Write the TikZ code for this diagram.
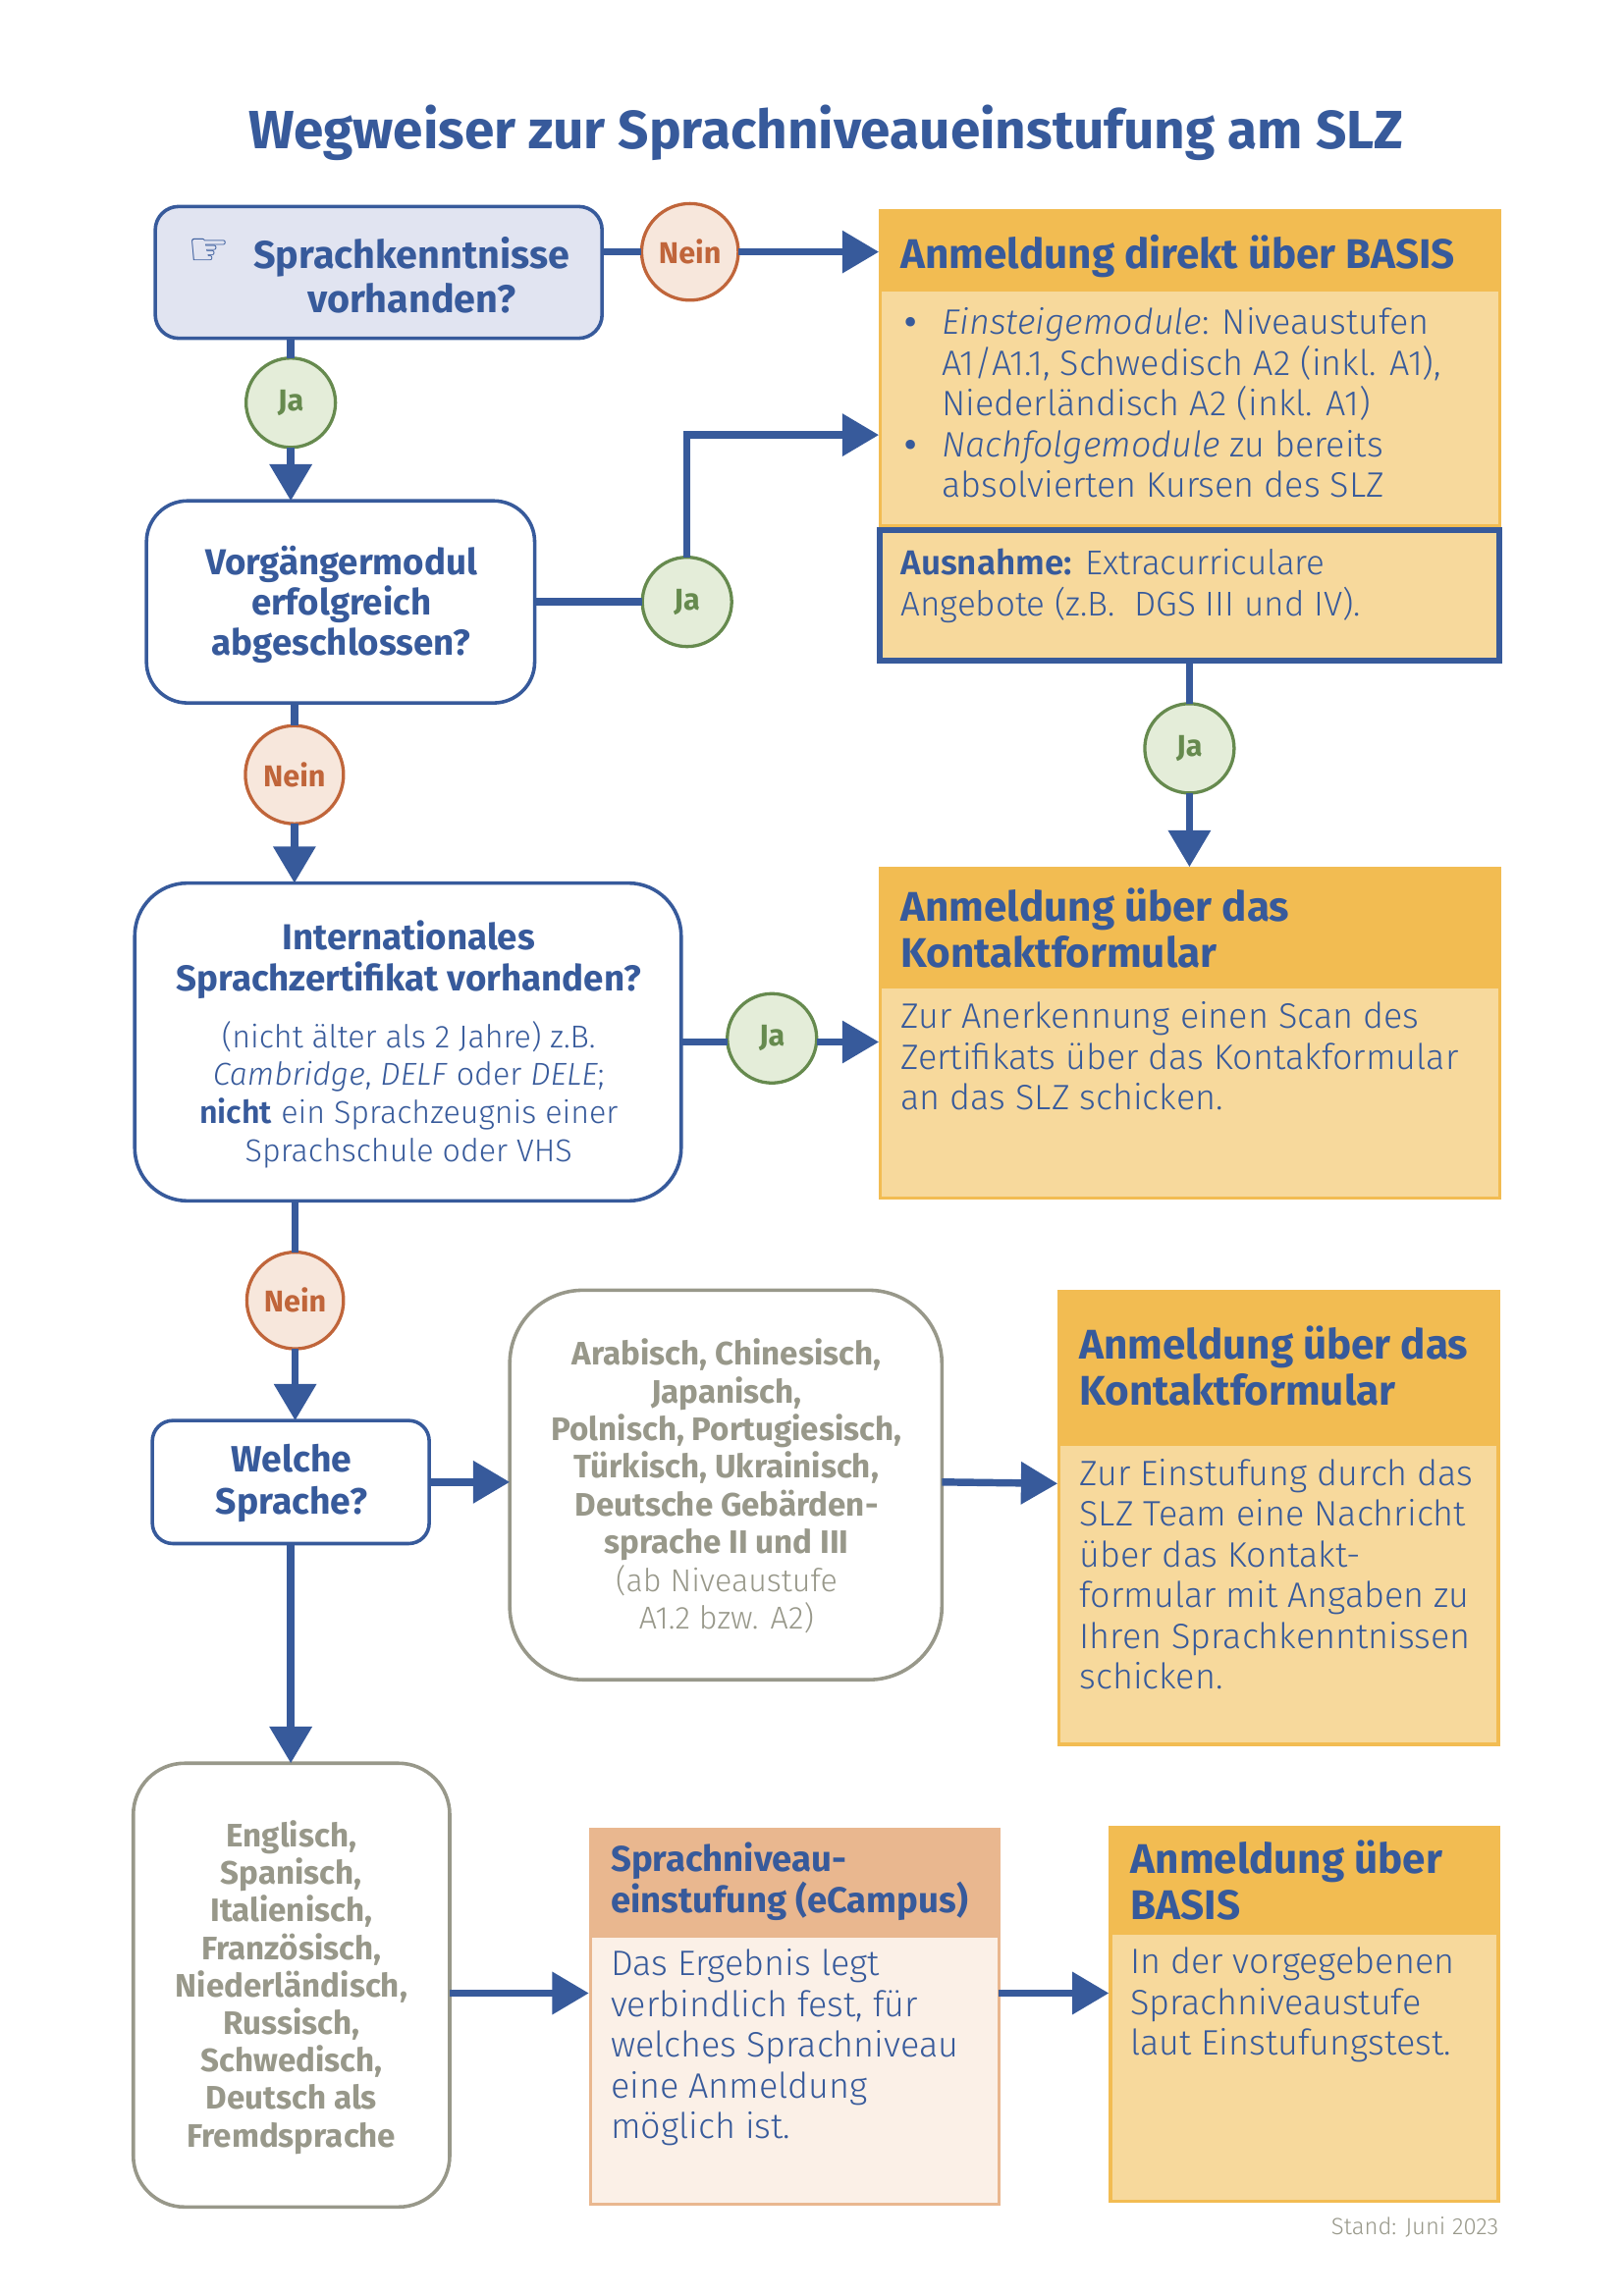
\documentclass[tikz,border=0pt]{standalone}
\usepackage{fontspec}
\usetikzlibrary{arrows.meta,calc}
\setmainfont{Fira Sans}
\newfontfamily\lightf{Fira Sans Light}
\newfontfamily\handf{DejaVu Sans}
\definecolor{bl}{HTML}{375A9B}
\definecolor{hdr}{HTML}{F2BC52}
\definecolor{bod}{HTML}{F7D99C}
\definecolor{pale}{HTML}{E1E4F1}
\definecolor{grn}{HTML}{668A4E}
\definecolor{grnf}{HTML}{E4EDD9}
\definecolor{org}{HTML}{C0653A}
\definecolor{orgf}{HTML}{F7E7DC}
\definecolor{gry}{HTML}{98988A}
\definecolor{peach}{HTML}{E9B78F}
\definecolor{peachf}{HTML}{FBF0E7}
\tikzset{
  x=1pt,y=-1pt,
  every node/.style={outer sep=0pt},
  flowbox/.style={draw=bl,line width=2.4pt,fill=white,rounded corners=#1,inner sep=0pt},
  greybox/.style={draw=gry,line width=2.4pt,fill=white,rounded corners=#1,inner sep=0pt},
  jabub/.style={circle,draw=grn,fill=grnf,line width=2.2pt,inner sep=0pt,minimum size=61pt,text=grn,font=\fontsize{20.5}{24}\selectfont\bfseries},
  neinbub/.style={circle,draw=org,fill=orgf,line width=2.2pt,inner sep=0pt,minimum size=66pt,text=org,font=\fontsize{20.5}{24}\selectfont\bfseries},
  hdrbox/.style={fill=#1,inner sep=0pt,anchor=north west},
  bodbox/.style n args={2}{fill=#1,draw=#2,line width=2.2pt,inner sep=0pt,anchor=north west},
  htext/.style={anchor=west,align=left,text=bl,inner sep=0pt,font=\fontsize{28.3}{31.5}\selectfont\bfseries},
  btext/.style={anchor=west,align=left,text=bl,inner sep=0pt,font=\lightf\fontsize{24.1}{27.8}\selectfont},
  qtext/.style={align=center,text=bl,inner sep=0pt,font=\fontsize{24.6}{27.5}\selectfont\bfseries},
  link/.style={draw=bl,line width=5pt},
  arr/.style={draw=bl,line width=5pt,-{Triangle[length=25pt,width=28pt]}},
}
\begin{document}
\begin{tikzpicture}
\useasboundingbox (0,0) rectangle (1108,1567.8);
% title
\node[inner sep=0pt,text=bl,font=\fontsize{36.8}{42}\selectfont\bfseries] (title) at (564,91) {Wegweiser zur Sprachniveaueinstufung am SLZ};
% question boxes
\node[flowbox=16pt,fill=pale,minimum width=305pt,minimum height=90pt] (q1) at (258.5,186) {};
\node[qtext,font=\fontsize{26.5}{30}\selectfont\bfseries] (q1t) at (281,188) {Sprachkenntnisse\\vorhanden?};
\node[inner sep=0pt,text=bl,font=\handf\fontsize{32}{32}\selectfont] (hand) at (143,172) {☞};
\node[flowbox=28pt,minimum width=265pt,minimum height=138pt] (q2) at (232.5,411) {};
\node[qtext] (q2t) at (233,413) {Vorgängermodul\\erfolgreich\\abgeschlossen?};
\node[flowbox=36pt,minimum width=373pt,minimum height=217pt] (q3) at (278.5,711.5) {};
\node[qtext,font=\fontsize{24.6}{28}\selectfont\bfseries] (q3a) at (279,655.5) {Internationales\\Sprachzertifikat vorhanden?};
\node[qtext,font=\lightf\fontsize{21.6}{26}\selectfont] (q3b) at (279,747.5) {(nicht älter als 2 Jahre) z.B.\\\textit{Cambridge}, \textit{DELF} oder \textit{DELE};\\\textbf{nicht} ein Sprachzeugnis einer\\Sprachschule oder VHS};
\node[flowbox=14pt,minimum width=189pt,minimum height=84pt] (q4) at (198.5,1012) {};
\node[qtext,font=\fontsize{25}{29}\selectfont\bfseries] (q4t) at (199,1013) {Welche\\Sprache?};
% grey boxes
\node[greybox=50pt,minimum width=295pt,minimum height=266pt] (g1) at (495.5,1014) {};
\node[qtext,text=gry,font=\fontsize{22.2}{25.8}\selectfont\bfseries] (g1a) at (496,990) {Arabisch, Chinesisch,\\Japanisch,\\Polnisch, Portugiesisch,\\Türkisch, Ukrainisch,\\Deutsche Gebärden-\\sprache II und III};
\node[qtext,text=gry,font=\lightf\fontsize{21.6}{26}\selectfont] (g1b) at (496,1092) {(ab Niveaustufe\\A1.2 bzw. A2)};
\node[greybox=35pt,minimum width=216pt,minimum height=303pt] (g2) at (199,1355.5) {};
\node[qtext,text=gry,font=\fontsize{22.2}{25.6}\selectfont\bfseries] (g2t) at (199,1357) {Englisch,\\Spanisch,\\Italienisch,\\Französisch,\\Niederländisch,\\Russisch,\\Schwedisch,\\Deutsch als\\Fremdsprache};
% result 1
\node[bodbox={bod}{hdr},minimum width=422.8pt,minimum height=161pt] (r1b) at (601.1,198) {};
\node[hdrbox=hdr,minimum width=425pt,minimum height=56pt] (r1h) at (600,143) {};
\node[htext] (r1ht) at (615,175) {Anmeldung direkt über BASIS};
\node[btext] (r1t) at (643,275) {\llap{\textbf{•}\hspace{17pt}}\textit{Einsteigemodule}: Niveaustufen\\A1/A1.1, Schwedisch A2 (inkl. A1),\\Niederländisch A2 (inkl. A1)\\\llap{\textbf{•}\hspace{17pt}}\textit{Nachfolgemodule} zu bereits\\absolvierten Kursen des SLZ};
\node[draw=bl,fill=bod,line width=4pt,inner sep=0pt,anchor=north west,minimum width=423pt,minimum height=89pt] (ex) at (600.5,362) {};
\node[btext,font=\lightf\fontsize{23.5}{27.8}\selectfont] (ext) at (615,400) {\textbf{Ausnahme:} Extracurriculare\\Angebote (z.B.\ \ DGS III und IV).};
% result 2
\node[bodbox={bod}{hdr},minimum width=422.8pt,minimum height=144pt] (r2b) at (601.1,674) {};
\node[hdrbox=hdr,minimum width=425pt,minimum height=82pt] (r2h) at (600,592) {};
\node[htext] (r2ht) at (615,634) {Anmeldung über das\\Kontaktformular};
\node[btext] (r2t) at (615,721) {Zur Anerkennung einen Scan des\\Zertifikats über das Kontakformular\\an das SLZ schicken.};
% result 3
\node[bodbox={bod}{hdr},minimum width=299.8pt,minimum height=205pt] (r3b) at (723.1,986) {};
\node[hdrbox=hdr,minimum width=302pt,minimum height=105pt] (r3h) at (722,881) {};
\node[htext] (r3ht) at (737,933) {Anmeldung über das\\Kontaktformular};
\node[btext] (r3t) at (737,1075) {Zur Einstufung durch das\\SLZ Team eine Nachricht\\über das Kontakt-\\formular mit Angaben zu\\Ihren Sprachkenntnissen\\schicken.};
% placement test
\node[bodbox={peachf}{peach},minimum width=278.8pt,minimum height=183pt] (r4b) at (403.1,1322) {};
\node[hdrbox=peach,minimum width=281pt,minimum height=74pt] (r4h) at (402,1248) {};
\node[htext,font=\fontsize{24.5}{28}\selectfont\bfseries] (r4ht) at (417,1285) {Sprachniveau-\\einstufung (eCampus)};
\node[btext] (r4t) at (417,1398) {Das Ergebnis legt\\verbindlich fest, für\\welches Sprachniveau\\eine Anmeldung\\möglich ist.};
% result 4
\node[bodbox={bod}{hdr},minimum width=264.8pt,minimum height=183pt] (r5b) at (758.1,1320) {};
\node[hdrbox=hdr,minimum width=267pt,minimum height=73pt] (r5h) at (757,1247) {};
\node[htext] (r5ht) at (772,1284) {Anmeldung über\\BASIS};
\node[btext] (r5t) at (771.5,1369) {In der vorgegebenen\\Sprachniveaustufe\\laut Einstufungstest.};
% bubbles
\node[neinbub] (n1) at (471,172) {Nein};
\node[jabub] (j1) at (198.5,275) {\raisebox{-1.5pt}{Ja}};
\node[jabub] (j2) at (469,411) {\raisebox{-1.5pt}{Ja}};
\node[neinbub,minimum size=67pt] (n2) at (201,529) {Nein};
\node[jabub] (j3) at (527,709) {\raisebox{-1.5pt}{Ja}};
\node[jabub] (j4) at (812,511) {\raisebox{-1.5pt}{Ja}};
\node[neinbub] (n3) at (201.5,888) {Nein};
% connectors
\draw[link] (n1 -| q1.east) -- (n1.west);
\draw[arr] (n1.east) -- (n1 -| r1h.west);
\draw[link] (j1 |- q1.south) -- (j1.north);
\draw[arr] (j1.south) -- (j1 |- q2.north);
\draw[link] (j2 -| q2.east) -- (j2.west);
\coordinate (bend) at (0,297);
\draw[arr] (j2.north) |- (r1h.west |- bend);
\draw[link] (n2 |- q2.south) -- (n2.north);
\draw[arr] (n2.south) -- (n2 |- q3.north);
\draw[link] (q3.east) -- (q3.east -| j3.west);
\draw[arr] (q3.east -| j3.east) -- (q3.east -| r2h.west);
\draw[link] (j4 |- ex.south) -- (j4.north);
\draw[arr] (j4.south) -- (j4 |- r2h.north);
\draw[link] (n3 |- q3.south) -- (n3.north);
\draw[arr] (n3.south) -- (n3 |- q4.north);
\draw[arr] (q4.east) -- (g1.west |- q4.east);
\draw[arr] (g1.east |- q4.east) -- ($(r3h.west |- q4.east)+(0,1)$);
\draw[arr] (q4.south) -- (q4.south |- g2.north);
\coordinate (low) at (0,1361);
\draw[arr] (g2.east |- low) -- (r4h.west |- low);
\draw[arr] (r4b.east |- low) -- (r5h.west |- low);
% footer
\node[anchor=east,inner sep=0pt,text=gry,font=\lightf\fontsize{16}{18}\selectfont] (stand) at (1023,1521) {Stand: Juni 2023};
\end{tikzpicture}
\end{document}
